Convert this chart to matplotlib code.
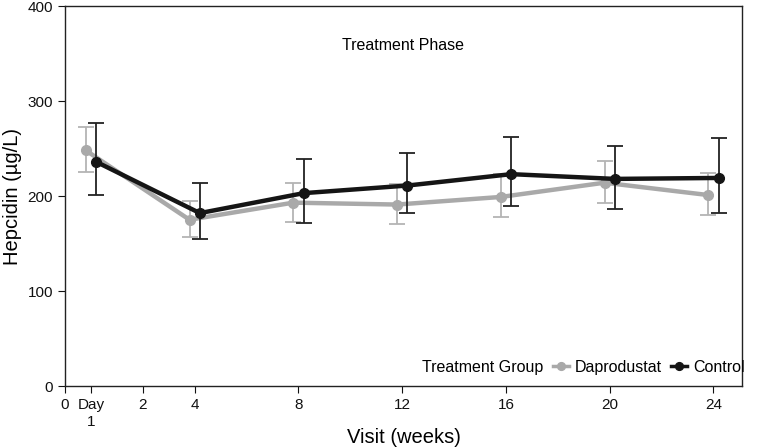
import matplotlib
matplotlib.use("Agg")
import matplotlib.pyplot as plt

plt.rcParams['font.family'] = ['Liberation Sans', 'DejaVu Sans']

weeks = [0, 4, 8, 12, 16, 20, 24]
tick_pos = [-1, 0, 2, 4, 8, 12, 16, 20, 24]
tick_labels = ["0", "Day\n1", "2", "4", "8", "12", "16", "20", "24"]

dapro_mean = [248, 175, 193, 191, 199, 214, 201]
dapro_hi = [273, 195, 214, 213, 223, 237, 224]
dapro_lo = [225, 157, 173, 171, 178, 193, 180]

ctrl_mean = [236, 182, 203, 211, 223, 218, 219]
ctrl_hi = [277, 214, 239, 245, 262, 253, 261]
ctrl_lo = [201, 155, 172, 182, 190, 186, 182]

fig = plt.figure(figsize=(7.57, 4.48), dpi=100)
ax = fig.add_axes([65/757, 1-386/448, (742-65)/757, (386-6)/448])

dodge = 0.2
xd = [w - dodge for w in weeks]
xc = [w + dodge for w in weeks]

ax.errorbar(xd, dapro_mean,
            yerr=[[m - l for m, l in zip(dapro_mean, dapro_lo)], [h - m for m, h in zip(dapro_mean, dapro_hi)]],
            fmt='none', ecolor='#b4b4b4', elinewidth=1.3, capsize=6, capthick=1.3, zorder=2)
ax.plot(xd, dapro_mean, color='#a9a9a9', lw=3.2, marker='o', ms=7, zorder=3, label='Daprodustat')

ax.errorbar(xc, ctrl_mean,
            yerr=[[m - l for m, l in zip(ctrl_mean, ctrl_lo)], [h - m for m, h in zip(ctrl_mean, ctrl_hi)]],
            fmt='none', ecolor='#222222', elinewidth=1.3, capsize=6, capthick=1.3, zorder=4)
ax.plot(xc, ctrl_mean, color='#151515', lw=3.2, marker='o', ms=7, zorder=5, label='Control')

ax.set_xlim(-1, 25.1)
ax.set_ylim(0, 400)
ax.set_yticks([0, 100, 200, 300, 400])
ax.set_xticks(tick_pos)
ax.set_xticklabels(tick_labels, va='top', linespacing=1.3)
ax.tick_params(labelsize=11, length=5, direction='out', colors='#111111')
for s in ax.spines.values():
    s.set_linewidth(1.0)
    s.set_color('#222222')

ax.set_xlabel("Visit (weeks)", fontsize=14.5)
ax.xaxis.set_label_coords(0.5, -(437-386)/380, transform=ax.transAxes)
ax.xaxis.label.set_va('center')
ax.set_ylabel("Hepcidin (µg/L)", fontsize=14.5)
ax.yaxis.set_label_coords(-(65-12)/677, 0.5, transform=ax.transAxes)
ax.yaxis.label.set_va('center')

ax.text(0.5, 0.895, "Treatment Phase", transform=ax.transAxes, ha='center', va='center', fontsize=11.5)

ax.text(543/757, 1-367/448, "Treatment Group", transform=fig.transFigure, ha='right', va='center', fontsize=11.5)
leg = ax.legend(loc='center left', bbox_to_anchor=(553/757, 1-367/448), bbox_transform=fig.transFigure,
                ncol=2, frameon=False, fontsize=11.5, handlelength=1.0, handletextpad=0.35,
                columnspacing=0.6, borderaxespad=0, borderpad=0.0, markerscale=0.8)
for h in leg.legend_handles:
    h.set_linewidth(2.5)

fig.savefig("out.png", dpi=100)
